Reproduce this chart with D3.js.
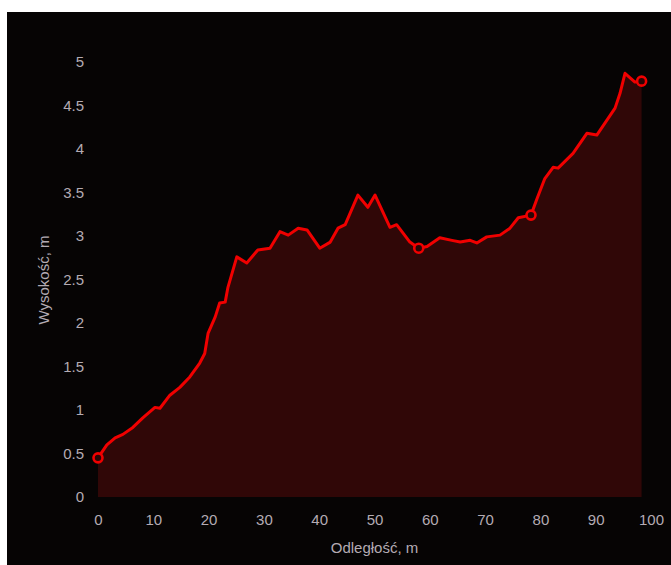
<!DOCTYPE html>
<html>
<head>
<meta charset="utf-8">
<script src="https://cdn.jsdelivr.net/npm/d3@7"></script>
<style>
  html, body { margin: 0; padding: 0; background: #fff; }
  svg { display: block; }
  .tick text { fill: #b4abb3; font-family: "Liberation Sans", Arial, sans-serif; font-size: 15px; }
  .title { fill: #b4abb3; font-family: "Liberation Sans", Arial, sans-serif; font-size: 15px; }
</style>
</head>
<body>
<div class="chart"></div>
<script>
var svgWidth = 671;
var svgHeight = 565;

// distance (m) and elevation (m)
var distance = [0, 1.6, 3.1, 4.5, 6.3, 8.1, 10.3, 11.2, 13, 14.8, 16.6, 18.4, 19.3, 19.9,
  21.2, 22, 23, 23.5, 25.1, 26.9, 28.9, 31.1, 32.9, 34.4, 36.2, 37.8, 40.1, 42, 43.4,
  44.7, 47, 48.8, 50.1, 52.8, 54, 56.4, 58, 59.5, 61.8, 64, 65.5, 67.3, 68.5, 70.3,
  72.7, 74.5, 76, 78.3, 79.4, 80.8, 82.3, 83.2, 85.9, 88.4, 90.2, 92, 93.5, 94.4,
  95.3, 97.1, 98.3];
var elevation = [0.45, 0.6, 0.68, 0.72, 0.8, 0.91, 1.03, 1.02, 1.17, 1.26, 1.38, 1.54, 1.65, 1.88,
  2.07, 2.23, 2.24, 2.41, 2.76, 2.69, 2.84, 2.86, 3.05, 3.01, 3.09, 3.07, 2.86, 2.93, 3.09,
  3.13, 3.47, 3.33, 3.47, 3.10, 3.13, 2.93, 2.86, 2.88, 2.98, 2.95, 2.93, 2.95, 2.92, 2.99,
  3.01, 3.09, 3.21, 3.24, 3.43, 3.66, 3.79, 3.78, 3.95, 4.18, 4.16, 4.33, 4.47, 4.64,
  4.87, 4.77, 4.78];
// indices of points drawn with a marker
var markerIdx = [0, 36, 47, 60];

var xTicks = d3.range(0, 101, 10);
var yTicks = d3.range(0, 5.01, 0.5);

var svg = d3.select(".chart")
    .append("svg")
    .attr("width", svgWidth)
    .attr("height", svgHeight);

// dark panel (white scan border top/left)
svg.append("rect")
    .attr("x", 7).attr("y", 12)
    .attr("width", svgWidth - 7).attr("height", svgHeight - 12)
    .attr("fill", "#060404");

var x = d3.scaleLinear().domain([0, 100]).range([98, 651]);
var y = d3.scaleLinear().domain([0, 5]).range([497, 62]);

var data = distance.map((d, i) => ({d: d, v: elevation[i]}));

var area = d3.area()
    .x(p => x(p.d))
    .y0(y(0))
    .y1(p => y(p.v));

var line = d3.line()
    .x(p => x(p.d))
    .y(p => y(p.v));

svg.append("path")
    .datum(data)
    .attr("d", area)
    .attr("fill", "#300707");

svg.append("path")
    .datum(data)
    .attr("d", line)
    .attr("fill", "none")
    .attr("stroke", "#f00000")
    .attr("stroke-width", 3)
    .attr("stroke-linejoin", "round");

svg.selectAll(".marker")
    .data(markerIdx.map(i => data[i]))
    .join("circle")
    .classed("marker", true)
    .attr("cx", p => x(p.d))
    .attr("cy", p => y(p.v))
    .attr("r", 4.5)
    .attr("fill", "#2a0505")
    .attr("stroke", "#f00000")
    .attr("stroke-width", 2.6);

// axes without lines
var xAxis = svg.append("g")
    .attr("transform", "translate(0,510)")
    .call(d3.axisBottom(x).tickValues(xTicks).tickSize(0).tickPadding(4).tickFormat(d => String(d)));
xAxis.select(".domain").remove();

var yAxis = svg.append("g")
    .attr("transform", "translate(90,0)")
    .call(d3.axisLeft(y).tickValues(yTicks).tickSize(0).tickPadding(6).tickFormat(d => String(+d.toFixed(1))));
yAxis.select(".domain").remove();

// axis titles
svg.append("text")
    .classed("title", true)
    .attr("x", x(50))
    .attr("y", 553)
    .attr("text-anchor", "middle")
    .text("Odległość, m");

svg.append("text")
    .classed("title", true)
    .attr("transform", "translate(49,280) rotate(-90)")
    .attr("text-anchor", "middle")
    .text("Wysokość, m");
</script>
</body>
</html>
